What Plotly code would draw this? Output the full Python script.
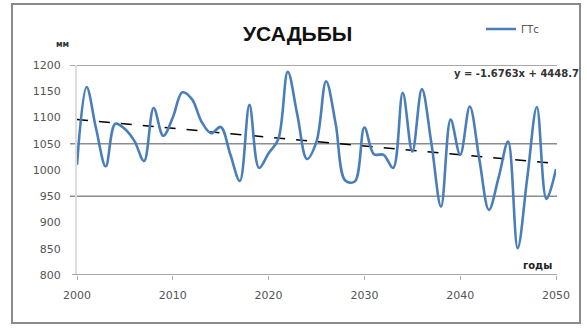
import plotly.graph_objects as go

# Annual precipitation, mm
years = list(range(2000, 2051))
precip = [
    1010, 1158, 1078, 1007, 1088, 1078, 1055, 1017, 1118, 1065,
    1100, 1148, 1135, 1092, 1070, 1082, 1030, 979, 1124, 1004,
    1032, 1058, 1187, 1105, 1021, 1054, 1169, 1088, 980, 978,
    1081, 1030, 1029, 1004, 1147, 1035, 1154, 1050, 930, 1096,
    1029, 1121, 1020, 924, 985, 1054, 851, 985, 1120, 945,
    1002,
]

# Linear trend coefficients
trend_slope = -1.6763
trend_intercept = 4448.7
trend = [trend_slope * y + trend_intercept for y in years]

y_ticks = [800, 850, 900, 950, 1000, 1050, 1100, 1150, 1200]
x_ticks = [2000, 2010, 2020, 2030, 2040, 2050]
grid_levels = [950, 1050, 1200]

W, H = 587, 329
ML, MR, MT, MB = 77, 31, 65, 54
PW, PH = W - ML - MR, H - MT - MB


def px(xp):
    return (xp - ML) / PW


def py(yp):
    return (H - MB - yp) / PH


fig = go.Figure()

fig.add_trace(go.Scatter(
    x=years, y=trend, mode="lines", showlegend=False,
    line=dict(color="black", width=1.5, dash="11px,11px"),
))
fig.add_trace(go.Scatter(
    x=years, y=precip, mode="lines", name="ГТс",
    line=dict(color="#4a7ebb", width=2.6, shape="spline", smoothing=1),
))

shapes = []
for g in grid_levels:
    shapes.append(dict(type="line", xref="paper", yref="y", x0=px(70), x1=px(557),
                       y0=g, y1=g, line=dict(color="#8c8c8c", width=1.5), layer="below"))
# outer frame
shapes.append(dict(type="rect", xref="paper", yref="paper", x0=px(12), x1=px(580),
                   y0=py(323), y1=py(4), line=dict(color="#8a8a8a", width=2)))
# x-axis baseline at 800
shapes.append(dict(type="line", xref="paper", yref="y", x0=px(72), x1=px(557), y0=800, y1=800,
                   line=dict(color="#8c8c8c", width=1.5)))

annotations = [
    dict(text="<b>УСАДЬБЫ</b>", xref="paper", yref="paper", x=px(297), y=py(33),
         xanchor="center", yanchor="middle", showarrow=False,
         font=dict(family="Liberation Sans", size=21, color="#111111")),
    dict(text="<b>мм</b>", xref="paper", yref="paper", x=px(62), y=py(45),
         xanchor="center", yanchor="middle", showarrow=False,
         font=dict(family="DejaVu Sans", size=8, color="#333333")),
    dict(text="<b>годы</b>", xref="paper", yref="paper", x=px(537), y=py(265),
         xanchor="center", yanchor="middle", showarrow=False,
         font=dict(family="DejaVu Sans", size=10, color="#222222")),
    dict(text=f"<b>y = {trend_slope}x + {trend_intercept}</b>", xref="paper", yref="paper",
         x=px(581), y=py(73), xanchor="right", yanchor="middle", showarrow=False,
         font=dict(family="DejaVu Sans", size=10, color="#333333")),
]

fig.update_layout(
    width=W, height=H,
    margin=dict(l=ML, r=MR, t=MT, b=MB),
    paper_bgcolor="white", plot_bgcolor="white",
    shapes=shapes, annotations=annotations,
    showlegend=True,
    legend=dict(x=px(481), y=py(29), xanchor="left", yanchor="middle",
                bgcolor="rgba(0,0,0,0)",
                font=dict(family="DejaVu Sans", size=10, color="#555555")),
    xaxis=dict(range=[2000, 2050], tickvals=x_ticks, showgrid=False,
               showline=False, zeroline=False, ticks="outside", ticklen=4,
               tickcolor="#aaaaaa", ticklabelstandoff=6,
               tickfont=dict(family="DejaVu Sans", size=11, color="#555555")),
    yaxis=dict(range=[800, 1200], tickvals=y_ticks, showgrid=False,
               showline=True, linecolor="#dddddd", linewidth=2, zeroline=False,
               ticks="", ticklabelstandoff=12,
               tickfont=dict(family="DejaVu Sans", size=11, color="#555555")),
)

fig.write_html("out.html")
